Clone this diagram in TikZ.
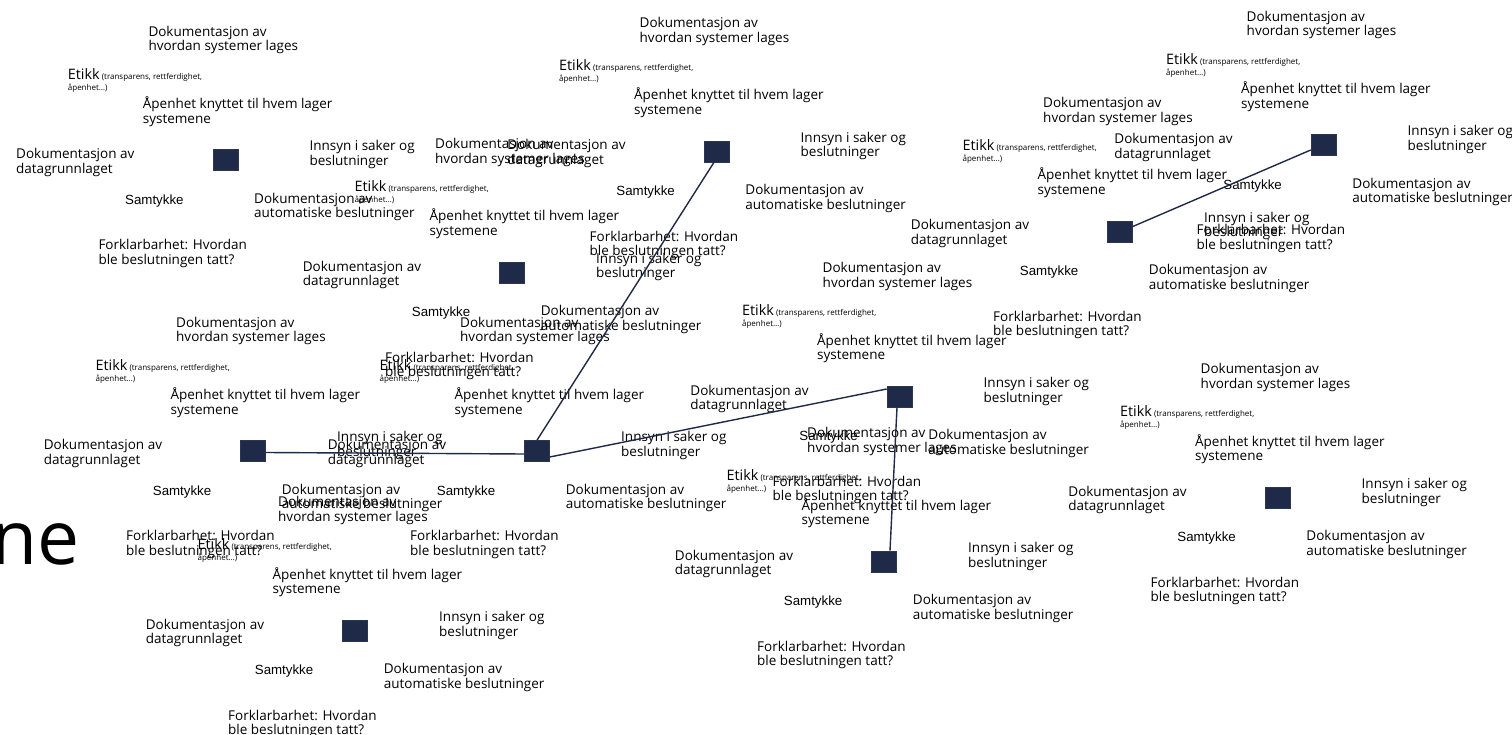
\documentclass[tikz,border=0pt]{standalone}
\usepackage{fontspec}
\setmainfont{Open Sans}
\newfontfamily\arialf{Liberation Sans}
\usetikzlibrary{calc}
\definecolor{navy}{RGB}{31,41,72}
\newcommand\st{\rule{0pt}{14pt}}
\tikzset{
  sq/.style={fill=navy, draw=navy!85!gray, line width=0.6pt, minimum width=25pt, minimum height=21pt, inner sep=0pt},
  lab/.style={anchor=north west, inner sep=0pt, align=left, font=\fontsize{13.5}{14.6}\selectfont},
  samt/.style={anchor=north west, inner sep=0pt, font=\arialf\fontsize{13.3}{14.6}\selectfont},
  etik/.style={anchor=north west, inner sep=0pt, align=left, font=\fontsize{8}{11}\selectfont},
  conn/.style={draw=navy, line width=1.4pt},
}
\newcommand\mycluster[3]{%
  \node[lab]  (#1-hv) at ({#2-77},{#3-138}) {\st Dokumentasjon av\\hvordan systemer lages};
  \node[etik] (#1-et) at ({#2-157.6},{#3-95}) {\st{\fontsize{14.4}{14}\selectfont Etikk} (transparens, rettferdighet,\\åpenhet…)};
  \node[lab]  (#1-ap) at ({#2-82.6},{#3-65.7}) {\st Åpenhet knyttet til hvem lager\\systemene};
  \node[lab]  (#1-in) at ({#2+84},{#3-23.3}) {\st Innsyn i saker og\\beslutninger};
  \node[lab]  (#1-dg) at ({#2-209.3},{#3-15.7}) {\st Dokumentasjon av\\datagrunnlaget};
  \node[samt] (#1-sa) at ({#2-100.3},{#3+30}) {\st Samtykke};
  \node[lab]  (#1-au) at ({#2+28.7},{#3+29}) {\st Dokumentasjon av\\automatiske beslutninger};
  \node[lab]  (#1-fo) at ({#2-127},{#3+75.5}) {\st Forklarbarhet: Hvordan\\ble beslutningen tatt?};
}
\begin{document}
\begin{tikzpicture}[x=1pt,y=-1pt]
\useasboundingbox (0,0) rectangle (1512,735);
\fill[white] (0,0) rectangle (1512,735);
\node[anchor=base east, inner sep=0pt, font=\fontsize{75}{75}\selectfont] (ne) at (80,564) {ne};
\mycluster{c1}{225.3}{160}
\mycluster{c2}{716.5}{151.5}
\mycluster{c3}{512}{272.5}
\mycluster{c4}{537}{451}
\mycluster{c5}{253}{451}
\mycluster{c6}{355}{630.5}
\mycluster{c7}{899.5}{396.5}
\mycluster{c8}{884}{561.5}
\mycluster{c9}{1120}{231.5}
\mycluster{c10}{1323.5}{145}
\mycluster{c11}{1277.5}{497.5}
\foreach \n/\x/\y in {s1/225.3/160, s2/716.5/151.5, s3/512/272.5, s4/537/451, s5/253/451, s6/355/630.5, s7/899.5/396.5, s8/884/561.5, s9/1120/231.5, s10/1323.5/145, s11/1277.5/497.5}
  \node[sq] (\n) at (\x,\y) {};
\draw[conn] ([yshift=-1.5pt]s5.east) -- ([yshift=-3pt]s4.west);
\draw[conn] (s4.north) -- ([xshift=-2.5pt]s2.south);
\draw[conn] ([yshift=-6pt]s4.east) -- ([yshift=7.5pt]s7.west);
\draw[conn] ([xshift=-2.5pt]s7.south) -- ([xshift=6pt]s8.north);
\draw[conn] ([yshift=5pt]s9.east) -- ([yshift=-5pt]s10.west);
\end{tikzpicture}
\end{document}
